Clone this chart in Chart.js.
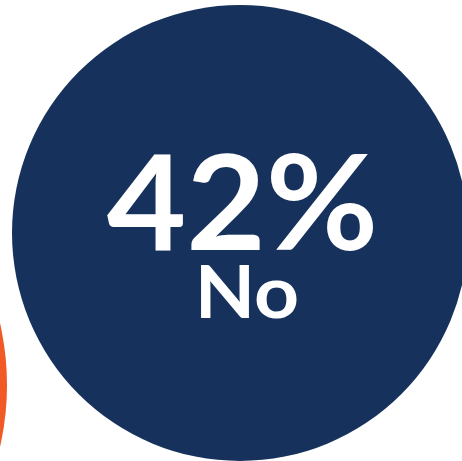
<!DOCTYPE html>
<html>
<head>
<meta charset="utf-8">
<script src="https://cdn.jsdelivr.net/npm/chart.js@4/dist/chart.umd.min.js"></script>
<style>
html,body{margin:0;padding:0;background:#fff;}
#wrap{width:462px;height:461px;position:relative;}
</style>
</head>
<body>
<div id="wrap"><canvas id="c"></canvas></div>
<script>
const categories = ["Yes", "No"];
const percentValues = [58, 42];
const bubbleX = [-270, 240];
const bubbleY = [385, 233];
const bubbleR = [277, 228];
const colors = ["#F15A24", "#16325C"];

function drawStretched(ctx, text, x, y, sx) {
  ctx.save();
  ctx.translate(x, y);
  ctx.scale(sx, 1);
  ctx.fillText(text, 0, 0);
  ctx.restore();
}

const labelPlugin = {
  id: 'bubbleLabels',
  afterDatasetsDraw(chart) {
    const ctx = chart.ctx;
    const meta = chart.getDatasetMeta(0);
    meta.data.forEach((el, i) => {
      const x = el.x, y = el.y;
      ctx.save();
      ctx.fillStyle = '#ffffff';
      ctx.textAlign = 'center';
      ctx.textBaseline = 'alphabetic';
      ctx.font = 'bold 132px Lato, "Open Sans", sans-serif';
      drawStretched(ctx, percentValues[i] + '%', x + 2.5, y + 17, 1.04);
      ctx.font = 'bold 72px Lato, "Open Sans", sans-serif';
      drawStretched(ctx, categories[i], x + 7, y + 85, 1.09);
      ctx.restore();
    });
  }
};

new Chart(document.getElementById('c'), {
  type: 'bubble',
  data: {
    datasets: [{
      data: categories.map((c, i) => ({x: bubbleX[i], y: bubbleY[i], r: bubbleR[i]})),
      backgroundColor: colors,
      borderWidth: 0,
      hoverBorderWidth: 0,
      clip: false
    }]
  },
  options: {
    responsive: true,
    maintainAspectRatio: false,
    animation: false,
    events: [],
    layout: {padding: 0, autoPadding: false},
    plugins: {legend: {display: false}, tooltip: {enabled: false}},
    scales: {
      x: {type: 'linear', min: 0, max: 462, display: false},
      y: {type: 'linear', min: 0, max: 461, reverse: true, display: false}
    }
  },
  plugins: [labelPlugin]
});
</script>
</body>
</html>
